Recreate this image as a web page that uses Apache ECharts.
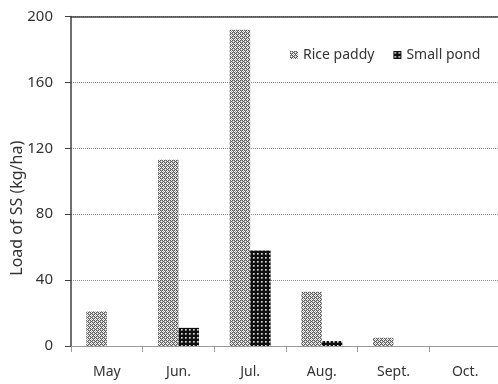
<!DOCTYPE html>
<html>
<head>
<meta charset="utf-8">
<script src="https://cdn.jsdelivr.net/npm/echarts@6/dist/echarts.min.js"></script>
<style>
  html, body { margin: 0; padding: 0; background: #fff; }
  #chart { width: 498px; height: 384px; }
</style>
</head>
<body>
<div id="chart"></div>
<script>
// Monthly suspended-solids load by source
const months = ['May', 'Jun.', 'Jul.', 'Aug.', 'Sept.', 'Oct.'];
const ricePaddy = [21, 113, 192, 33, 5, 0];
const smallPond = [0, 11, 58, 3, 0, 0];
const yTicks = { min: 0, max: 200, step: 40 };

// Small tiled fills: grey cross-hatch and black dotted screen
function makePattern(size, bg, dots) {
  const c = document.createElement('canvas');
  c.width = size; c.height = size;
  const g = c.getContext('2d');
  g.fillStyle = bg;
  g.fillRect(0, 0, size, size);
  dots.forEach(([x, y, col]) => { g.fillStyle = col; g.fillRect(x, y, 1, 1); });
  return { image: c, repeat: 'repeat' };
}
const D = '#5a5a5a', L = '#a6a6a6';
const riceFill = makePattern(4, '#ffffff', [
  [0, 0, D], [1, 0, L], [2, 0, D],
  [0, 1, L], [2, 1, L], [3, 1, D],
  [0, 2, D], [1, 2, L], [2, 2, D],
  [1, 3, D], [3, 3, L]
]);
const pondFill = makePattern(4, '#101010', [
  [1, 1, '#d8d8d8'], [2, 1, '#9a9a9a'], [1, 2, '#9a9a9a'], [2, 2, '#6a6a6a']
]);

const font = '"Noto Sans", "Open Sans", sans-serif';
const chart = echarts.init(document.getElementById('chart'), null, { renderer: 'canvas' });
chart.setOption({
  animation: false,
  textStyle: { fontFamily: font },
  grid: { left: 71, right: -3, top: 16.5, bottom: 38, outerBoundsMode: 'none', containLabel: false },
  legend: {
    data: ['Rice paddy', 'Small pond'],
    left: 290, top: 48, padding: 0,
    itemWidth: 8, itemHeight: 8, itemGap: 19,
    icon: 'rect',
    textStyle: { fontFamily: font, fontSize: 14, color: '#333' }
  },
  xAxis: [{
    type: 'category',
    data: months,
    axisLine: { lineStyle: { color: '#9a9a9a', width: 1.2 } },
    axisTick: { show: true, length: 6, lineStyle: { color: '#9a9a9a' } },
    axisLabel: { fontSize: 14, color: '#333', margin: 19, fontFamily: font },
    splitLine: { show: false }
  }, {
    type: 'category',
    position: 'top',
    data: months,
    axisLine: { lineStyle: { color: '#404040', width: 1.5 } },
    axisTick: { show: false },
    axisLabel: { show: false }
  }],
  yAxis: {
    type: 'value',
    min: yTicks.min, max: yTicks.max, interval: yTicks.step,
    name: 'Load of SS (kg/ha)',
    nameLocation: 'middle',
    nameGap: 46,
    nameMoveOverlap: false,
    nameTextStyle: { fontSize: 16, color: '#333', fontFamily: font, padding: [0, 54, 0, 0] },
    axisLine: { show: true, lineStyle: { color: '#404040', width: 1.5 } },
    axisTick: { show: true, length: 6, lineStyle: { color: '#404040' } },
    axisLabel: { fontSize: 15, color: '#333', margin: 18, fontFamily: font },
    splitLine: { lineStyle: { color: '#8a8a8a', type: 'dotted', width: 1 } }
  },
  series: [{
    name: 'Rice paddy',
    type: 'bar',
    data: ricePaddy,
    barWidth: 20.5,
    barGap: '0%',
    itemStyle: { color: riceFill }
  }, {
    name: 'Small pond',
    type: 'bar',
    data: smallPond,
    barWidth: 20.5,
    itemStyle: { color: pondFill }
  }]
});
</script>
</body>
</html>
